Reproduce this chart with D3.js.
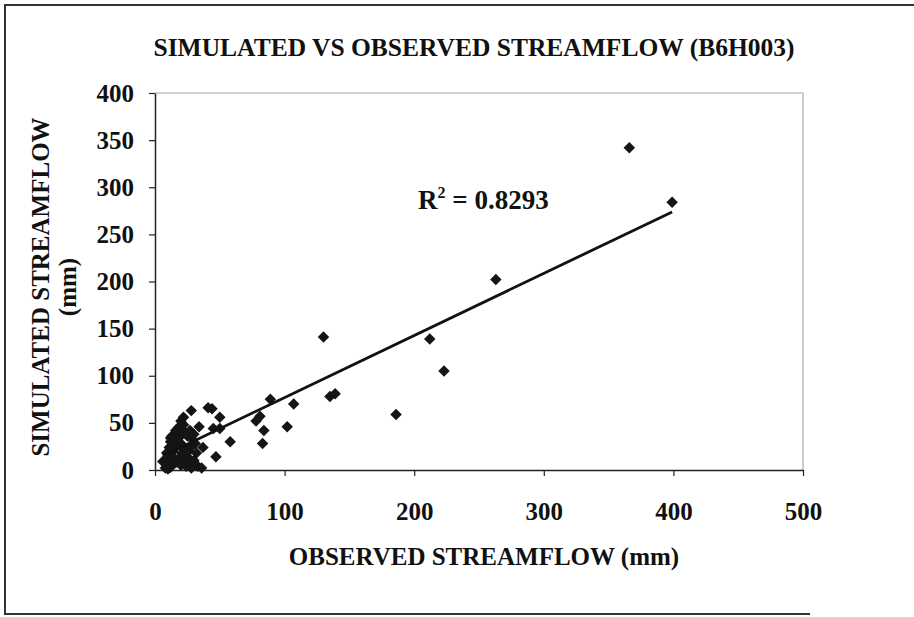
<!DOCTYPE html>
<html>
<head>
<meta charset="utf-8">
<script src="https://cdn.jsdelivr.net/npm/d3@7/dist/d3.min.js"></script>
<style>
  body { margin: 0; background: #fff; }
  text { font-family: "Liberation Serif", "Times New Roman", serif; font-weight: bold; fill: #111; }
</style>
</head>
<body>
<div id="chart"></div>
<script>

// observed (x) and simulated (y) streamflow, mm
var observed = [366, 399, 263, 130, 212, 223, 186, 107, 135, 139, 102, 89, 78, 81, 84, 83,
    58, 50, 44, 45, 50, 47, 36, 37, 34, 28, 41, 22, 18, 12, 33, 6,
    8, 9, 10, 11, 12, 10, 13, 14, 15, 12, 13, 15, 16, 18, 17, 19, 20, 22, 21, 18, 16, 20,
    23, 25, 24, 27, 26, 28, 29, 25, 23, 27, 30, 31, 32, 30, 28, 22, 20, 14, 9, 11];
var simulated = [342, 284, 202, 141, 139, 105, 59, 70, 78, 81, 46, 75, 52, 57, 42, 28,
    30, 56, 65, 44, 44, 14, 2, 24, 46, 63, 66, 56, 44, 34, 4, 9,
    2, 5, 1, 8, 3, 12, 15, 20, 25, 30, 36, 38, 42, 45, 30, 35, 28, 22, 18, 12, 8, 5,
    10, 14, 4, 6, 20, 25, 32, 36, 40, 42, 38, 28, 18, 10, 2, 48, 52, 28, 18, 24];

var xTicks = [0, 100, 200, 300, 400, 500];
var yTicks = [0, 50, 100, 150, 200, 250, 300, 350, 400];

// linear trend
var trendSlope = 0.659;
var trendIntercept = 10.9;
var rSquared = "0.8293";

var W = 914, H = 617;
var plot = {left: 155, right: 803, top: 93, bottom: 470};

var svg = d3.select("#chart").append("svg")
    .attr("width", W)
    .attr("height", H);

var x = d3.scaleLinear().domain([0, 500]).range([plot.left, plot.right]);
var y = d3.scaleLinear().domain([0, 400]).range([plot.bottom, plot.top]);

drawFrame();
drawAxes();
drawPoints();
drawTrend();
drawLabels();

function drawFrame(){
    //outer box, no right side
    svg.append("path")
        .attr("d", "M914,5 L5,5 L5,614 L810,614")
        .attr("fill", "none")
        .attr("stroke", "#333")
        .attr("stroke-width", 2);

    // plot area border (top, right)
    svg.append("path")
        .attr("d", "M" + plot.left + "," + plot.top + " L" + plot.right + "," + plot.top + " L" + plot.right + "," + plot.bottom)
        .attr("fill", "none")
        .attr("stroke", "#aaa")
        .attr("stroke-width", 1.2);
}

function drawAxes(){
    var xAxis = svg.append("g")
        .attr("transform", "translate(0," + plot.bottom + ")")
        .call(d3.axisBottom(x).tickValues(xTicks).tickSize(6).tickSizeOuter(0).tickPadding(26));

    var yAxis = svg.append("g")
        .attr("transform", "translate(" + plot.left + ",0)")
        .call(d3.axisLeft(y).tickValues(yTicks).tickSize(6).tickSizeOuter(0).tickPadding(15));

    [xAxis, yAxis].forEach(function(a){
        a.select(".domain").attr("stroke", "#222").attr("stroke-width", 1.5);
        a.selectAll(".tick line").attr("stroke", "#222").attr("stroke-width", 1.2);
        a.selectAll(".tick text")
            .style("font-family", "'Liberation Serif', 'Times New Roman', serif")
            .style("font-weight", "bold")
            .style("font-size", "25px")
            .attr("fill", "#111");
    });
}

function drawPoints(){
    var diamond = d3.symbol().type(d3.symbolSquare).size(66);

    svg.append("g").selectAll("path")
        .data(d3.range(observed.length))
        .enter()
        .append("path")
        .attr("d", diamond)
        .attr("transform", function(i){
            return "translate(" + x(observed[i]) + "," + y(simulated[i]) + ") rotate(45)";
        })
        .attr("fill", "#151515");
}

function drawTrend(){
    var ext = d3.extent(observed);
    var line = d3.line()
        .x(function(d){ return x(d); })
        .y(function(d){ return y(trendIntercept + trendSlope * d); });

    svg.append("path")
        .datum(ext)
        .attr("d", line)
        .attr("fill", "none")
        .attr("stroke", "#111")
        .attr("stroke-width", 2.8);
}

function drawLabels(){
    svg.append("text")
        .attr("x", 474)
        .attr("y", 56)
        .attr("text-anchor", "middle")
        .style("font-size", "25.5px")
        .text("SIMULATED VS OBSERVED STREAMFLOW (B6H003)");

    svg.append("text")
        .attr("x", 484)
        .attr("y", 565)
        .attr("text-anchor", "middle")
        .style("font-size", "25px")
        .text("OBSERVED STREAMFLOW (mm)");

    var yt = svg.append("text")
        .attr("transform", "translate(49,287) rotate(-90)")
        .attr("text-anchor", "middle")
        .style("font-size", "25px");
    yt.append("tspan").attr("x", 0).attr("y", 0).text("SIMULATED STREAMFLOW");
    yt.append("tspan").attr("x", 0).attr("y", 27).text("(mm)");

    var r = svg.append("text")
        .attr("x", 418)
        .attr("y", 209)
        .style("font-size", "27px");
    r.append("tspan").text("R");
    r.append("tspan").attr("dy", -11).style("font-size", "16px").text("2");
    r.append("tspan").attr("dy", 11).text(" = " + rSquared);
}
</script>
</body>
</html>
